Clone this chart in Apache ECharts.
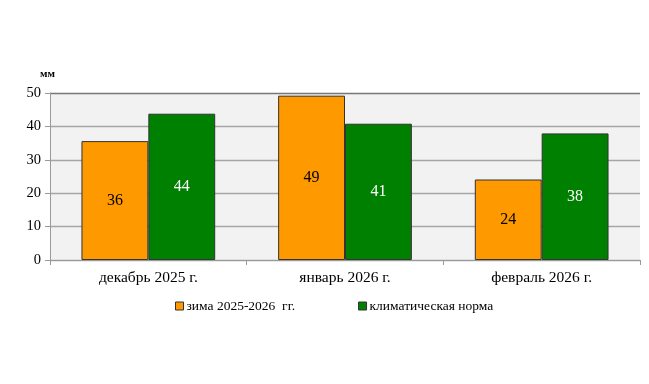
<!DOCTYPE html>
<html><head><meta charset="utf-8">
<script src="https://cdn.jsdelivr.net/npm/echarts@6/dist/echarts.min.js"></script>
<style>html,body{margin:0;padding:0;background:#fff}#c{width:649px;height:384px}</style>
</head><body><div id="c"></div>
<script>
const categories = ['декабрь 2025 г.', 'январь 2026 г.', 'февраль 2026 г.'];
const winter = [35.6, 49.2, 24.1];
const norm = [43.8, 40.8, 37.9];
const seriesNames = ['зима 2025-2026  гг.', 'климатическая норма'];
const yTicks = [0, 10, 20, 30, 40, 50];
const font = '"Liberation Serif", "Times New Roman", serif';

const chart = echarts.init(document.getElementById('c'), null, {renderer: 'canvas'});
chart.setOption({
  animation: false,
  textStyle: {fontFamily: font},
  grid: {left: 50, right: 9, top: 93, bottom: 124, containLabel: false,
    show: true, backgroundColor: '#f2f2f2', borderWidth: 0},
  legend: {
    top: 294, left: 170, itemGap: 63, itemWidth: 8, itemHeight: 8,
    icon: 'rect',
    itemStyle: {borderColor: '#333', borderWidth: 1},
    textStyle: {fontFamily: font, fontSize: 13.5, color: '#000', padding: [0, 0, 0, -2]},
    data: seriesNames
  },
  xAxis: {
    type: 'category', data: categories,
    axisLine: {lineStyle: {color: '#999', width: 1}},
    axisTick: {show: true, alignWithLabel: false, length: 5, lineStyle: {color: '#999'}},
    axisLabel: {fontFamily: font, fontSize: 15.5, color: '#000', margin: 10}
  },
  yAxis: {
    type: 'value', min: yTicks[0], max: yTicks[yTicks.length - 1], interval: 10,
    name: 'мм', nameGap: 13, nameLocation: 'end',
    nameTextStyle: {fontFamily: font, fontSize: 11, color: '#000', fontWeight: 'bold', align: 'right', padding: [0, -5, 0, 0]},
    axisLine: {show: true, lineStyle: {color: '#999'}},
    axisTick: {show: true, length: 5, lineStyle: {color: '#999'}},
    axisLabel: {fontFamily: font, fontSize: 14.5, color: '#000', margin: 9},
    splitLine: {show: true, lineStyle: {color: ['#a6a6a6', '#a6a6a6', '#a6a6a6', '#a6a6a6', '#a6a6a6', '#777'], width: 1.3}}
  },
  series: [
    {
      name: seriesNames[0], type: 'bar', data: winter,
      barCategoryGap: '32%', barGap: '0%',
      itemStyle: {color: '#ff9900', borderColor: '#333', borderWidth: 1},
      label: {show: true, position: 'inside', fontFamily: font, fontSize: 16, color: '#000',
        formatter: p => Math.round(p.value)}
    },
    {
      name: seriesNames[1], type: 'bar', data: norm,
      barCategoryGap: '32%', barGap: '0%',
      itemStyle: {color: '#008000', borderColor: '#333', borderWidth: 1},
      label: {show: true, position: 'inside', fontFamily: font, fontSize: 16, color: '#fff',
        formatter: p => Math.round(p.value)}
    }
  ]
});
</script></body></html>
